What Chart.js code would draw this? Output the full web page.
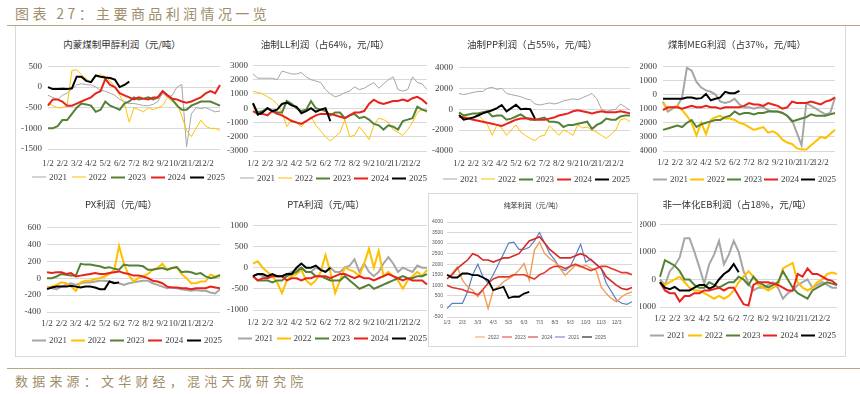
<!DOCTYPE html>
<html><head><meta charset="utf-8">
<script src="https://cdn.jsdelivr.net/npm/chart.js@4.4.1/dist/chart.umd.min.js"></script>
<style>
html,body{margin:0;padding:0;background:#fff;}
body{width:860px;height:394px;position:relative;overflow:hidden;font-family:"Noto Sans CJK SC",sans-serif;}
.abs{position:absolute;}
.ttl{position:absolute;transform:translate(-50%,-50%);white-space:nowrap;line-height:1;color:#333;font-family:"Noto Sans CJK SC",sans-serif;}
.leg{position:absolute;display:flex;justify-content:space-between;align-items:center;transform:translateY(-50%);white-space:nowrap;line-height:1;}
.leg .it{display:flex;align-items:center;}
.leg .ln{display:inline-block;}
</style></head>
<body>
<div class="abs" style="left:15px;top:4px;font-size:14px;letter-spacing:3.4px;color:#A08D6A;line-height:18px;white-space:nowrap;">图表 27：主要商品利润情况一览</div>
<div class="abs" style="left:7px;top:25px;width:853px;height:0;border-top:1px solid #B9A683;"></div>
<div class="abs" style="left:15px;top:26px;width:829px;height:330px;border-left:1px solid #D9D9D9;border-right:1px solid #D9D9D9;border-bottom:1px solid #D9D9D9;"></div>
<div class="abs" style="left:428px;top:193px;width:208px;height:152px;border:1px solid #D9D9D9;"></div>
<div class="abs" style="left:7px;top:368px;width:853px;height:0;border-top:1px solid #B9A683;"></div>
<div class="abs" style="left:15px;top:372px;font-size:13px;letter-spacing:4.2px;color:#A08D6A;line-height:18px;white-space:nowrap;">数据来源：文华财经，混沌天成研究院</div>
<script>
// ---------- categories / tick labels ----------
const MONTH_TICKS = ['1/2','2/2','3/2','4/2','5/2','6/2','7/2','8/2','9/2','10/2','11/2','12/2'];
const SAMPLE_DAYS = ['2','12','22'];
const BENZ_TICKS = ['1/3','2/3','3/3','4/3','5/3','6/3','7/3','8/3','9/3','10/3','11/3','12/3'];
const BENZ_DAYS = ['3','13','23'];
const YEARS = ['2021','2022','2023','2024','2025'];

// ---------- 内蒙煤制甲醇利润 ----------
const meoh2021 = [-200,-250,-300, -200,-150,-50, 50,80,60, 50,0,-80, -100,-150,-200, -300,-350,-400, -400,-420,-450, -450,-420,-350, -150,-250,-200, 0,60,-1450, -650,-500,-520, -500,-550,-600, -580];
const meoh2022 = [-400,-450,-500, -500,-450,400, 420,300,200, 100,250,300, 250,150,0, -200,-400,-850, -500,-550,-600, -500,-550,-500, -450,-250,-350, -400,-700,-1050, -1200,-1000,-800, -950,-1000,-1000, -1050];
const meoh2023 = [-1000,-1000,-950, -800,-800,-650, -500,-400,-420, -450,-600,-550, -350,-450,-500, -550,-400,-350, -250,-300,-280, -250,-300,-250, -100,-200,-300, -450,-550,-550, -450,-400,-350, -350,-350,-400, -450];
const meoh2024 = [-450,-300,-300, -350,-450,-450, -400,-350,-300, -250,-150,-100, 200,50,0, -150,-200,-250, -300,-250,-280, -300,-250,-250, -100,-200,-280, -300,-350,-380, -350,-300,-250, -150,-100,-150, 50];
const meoh2025 = [0,-50,-50, -40,-50,-30, 250,250,150, 120,280,250, 230,220,180, 0,50,130];

// ---------- 油制LL利润 ----------
const ll2021 = [2400,2100,2100, 2100,2100,2000, 2600,2500,2400, 2400,2500,2200, 2000,1900,1800, 1300,1000,800, 900,1100,1200, 1500,1300,1400, 1600,1800,1400, 1700,2000,2200, 1300,1200,1300, 2200,1800,1700, 1300];
const ll2022 = [1200,1100,1000, 800,600,300, -300,-1300,-800, -1000,-1300,-900, -600,-1200,-1600, -2000,-2300,-2000, -1700,-800,-2000, -1900,-1300,-1700, -2200,-1200,-700, -800,-1000,-1500, -1700,-1900,-1500, -1000,-300,-100, -300];
const ll2023 = [300,-300,-200, 0,-200,-300, -300,500,300, 0,-200,-100, 500,0,-100, -200,-500,-300, -300,-700,-500, -400,-700,-600, -800,-1100,-1200, -1500,-1200,-1300, -1500,-900,-800, -700,100,-100, -200];
const ll2024 = [-200,-400,-400, -500,-200,-400, -500,-700,-900, -1000,-1100,-900, -700,-500,-400, -400,-400,-500, -600,-700,-500, -300,-300,-200, 300,600,400, 300,400,500, 500,600,500, 700,800,600, 300];
const ll2025 = [350,-450,-300, 0,-200,-100, 300,400,200, 100,-350,-200, 0,-250,-100, 0,-900];

// ---------- 油制PP利润 ----------
const pp2021 = [1500,1400,1500, 1600,1700,1700, 2000,2100,1900, 2000,1500,1400, 1300,1200,1000, 900,500,400, 500,600,500, 600,800,900, 1000,900,1100, 1300,1500,1000, 0,-200,-100, 0,500,200, -100];
const pp2022 = [-300,-700,-800, -800,-500,-1000, -1500,-2500,-1500, -1800,-2500,-2000, -1500,-2200,-2500, -2800,-3000,-2600, -2500,-1600,-2000, -2500,-2000,-2200, -2500,-1500,-1800, -1700,-2000,-2200, -2500,-2800,-2400, -2000,-1000,-900, -1200];
const pp2023 = [-300,-600,-500, -400,-400,-300, -200,-700,-600, -600,-1000,-900, -700,-500,-800, -1000,-1000,-900, -800,-1200,-1200, -1300,-1700,-1500, -1500,-1400,-1300, -1200,-1900,-1500, -1300,-900,-1000, -1000,-700,-600, -600];
const pp2024 = [-700,-800,-900, -1000,-1100,-1200, -1300,-1400,-1500, -1600,-1400,-1200, -1000,-900,-900, -900,-1000,-1000, -1000,-900,-800, -600,-500,-400, -200,-100,-200, -300,-400,-300, -200,-300,-300, -300,-200,-300, -400];
const pp2025 = [-550,-1000,-900, -800,-600,-400, -250,-100,100, 400,-200,100, 430,0,50, 0,-900];

// ---------- 煤制MEG利润 ----------
const meg2021 = [-500,-1200,-1000, -800,-200,1900, 1700,900,500, 300,200,0, -500,-600,-500, -300,-700,-900, -900,-1000,-900, -900,-1100,-1200, -1200,-1300,-1500, -1800,-2700,-3600, -600,-800,-1000, -1200,-1400,-1300, -200];
const meg2022 = [-600,-1000,-900, -800,-1100,-1500, -2000,-2900,-2000, -2800,-1800,-1600, -1500,-1700,-1700, -1800,-2000,-2100, -2300,-2500,-2400, -2300,-2700,-2600, -2800,-3200,-3400, -3500,-3800,-3900, -3900,-3600,-3300, -3000,-3100,-2800, -2500];
const meg2023 = [-2500,-2400,-2300, -2200,-2300,-2000, -1800,-2300,-2100, -2000,-1900,-1800, -1800,-1600,-1500, -1200,-1400,-1300, -1300,-1400,-1300, -1300,-1200,-1200, -1200,-1300,-1500, -1900,-1800,-1700, -1600,-1400,-1500, -1500,-1500,-1400, -1300];
const meg2024 = [-1100,-900,-900, -900,-1000,-900, -800,-900,-900, -800,-900,-900, -1000,-900,-900, -900,-900,-800, -600,-700,-700, -800,-600,-700, -800,-1000,-900, -500,-600,-600, -600,-500,-600, -700,-500,-400, -200];
const meg2025 = [-300,-300,-300, -300,-300,-200, -200,-300,-250, 50,-400,-300, -200,200,100, 100,270];

// ---------- PX利润 ----------
const px2021 = [-100,-120,-130, -100,-80,-60, -80,-60,-50, -50,-40,-30, -30,-40,-50, -60,-80,-60, -50,-40,-30, -30,-60,-80, -100,-120,-110, -120,-130,-140, -150,-140,-150, -150,-170,-180, -130];
const px2022 = [-120,-100,-80, -50,-60,-100, -150,-50,-30, -30,-10,0, 20,50,100, 380,170,40, -40,0,20, 50,100,120, 170,100,120, 130,50,0, -60,-60,-40, -40,40,20, 20];
const px2023 = [0,0,20, 50,40,30, 30,170,160, 160,150,140, 120,130,110, 100,160,150, 150,150,140, 100,100,110, 120,100,120, 130,70,80, 70,50,60, 20,0,10, 40];
const px2024 = [70,60,70, 70,50,60, 20,30,40, 50,60,50, 50,60,70, 80,60,50, 30,30,20, 0,-30,-40, -60,-100,-110, -110,-120,-120, -130,-120,-120, -120,-100,-110, -120];
const px2025 = [-130,-110,-100, -100,-100,-90, -100,-110,-100, -100,-110,-130, -130,-40,-60, -50];

// ---------- PTA利润 ----------
const pta2021 = [-200,-150,-200, -250,-200,-200, -200,-150,-100, -50,0,-100, -100,0,-50, -100,0,-100, -100,0,50, 200,-100,100, -100,-200,-100, 100,250,100, -100,0,-50, -100,50,0, 0];
const pta2022 = [100,150,0, -100,-200,-350, -600,-300,-200, -150,-50,-300, -400,-300,-100, 300,-100,-600, -300,0,-50, -100,-200,100, 450,0,400, -200,-100,-200, -300,-500,-300, -200,-100,-200, -50];
const pta2023 = [-200,-300,-300, -300,-350,-300, -300,-200,-150, -100,0,-100, -100,-200,-200, -250,-300,-300, -300,-200,-300, -400,-500,-450, -400,-500,-450, -400,-350,-300, -250,-200,-250, -250,-200,-200, -150];
const pta2024 = [-200,-300,-250, -250,-200,-200, -200,-300,-250, -250,-300,-250, -250,-200,-200, -200,-250,-200, -150,-150,-200, -250,-200,-250, -250,-300,-250, -200,-150,-200, -250,-300,-250, -300,-300,-300, -400];
const pta2025 = [-200,-150,-150, -200,-150,-200, -200,-150,-150, 0,100,0, 0,50,-50, -100,0];

// ---------- 纯苯利润 ----------
const bz2021 = [-100,150,150, 150,700,1500, 2000,1400,1100, 1500,2000,2500, 3000,3050,2700, 2700,2800,3100, 3500,3000,2500, 2200,1800,1700, 1900,2400,2950, 2100,2250,2000, 1800,1100,700, 300,150,100, 220];
const bz2022 = [1320,1560,1870, 1240,930,770, 460,770,-100, 770,930,1170, 1320,1480,1720, 2030,1240,2660, 3050,2500,2270, 2110,1800,1480, 1720,1950,1870, 1950,1800,1720, 930,610,380, 220,460,610, 690];
const bz2023 = [1000,900,850, 800,700,650, 550,800,1100, 1300,1400,1400, 1400,1500,1500, 1500,1400,1300, 1500,1600,1800, 1900,1900,1800, 1900,2000,1900, 1800,1700,1800, 1900,1900,1800, 1700,1600,1600, 1500];
const bz2024 = [1300,1500,1800, 2000,2200,2500, 2400,2200,2200, 2100,2200,2300, 2300,2400,2500, 2800,3100,3200, 3300,3000,2700, 2500,2300,2300, 2300,2400,2500, 2400,2200,2000, 1800,1400,1200, 1000,850,800, 900];
const bz2025 = [1500,1370,1370, 1560,1560,1480, 1480,1370,1240, 770,850,930, 400,460,460, 610,690];

// ---------- 非一体化EB利润 ----------
const eb2021 = [0,-200,300, 500,800,1500, 1500,1000,450, -150,550,900, 1400,550,900, 1400,1000,300, -150,-400,-300, -300,-200,-100, -300,-700,-500, -400,-200,-100, 0,-300,-200, -100,-200,-300, -300];
const eb2022 = [-100,-200,-100, 0,100,-100, -300,-400,-400, -500,-600,-700, -600,-700,-600, -400,-100,100, 300,100,-200, -300,-400,-300, -200,400,500, 600,-100,-300, -400,-300,-100, 0,200,250, 200];
const eb2023 = [100,700,600, 500,300,0, 0,-200,-300, -300,-100,-200, -300,-200,-100, -100,100,0, -200,100,-100, -200,-300,-200, -100,300,0, -300,-500,-600, -700,-400,-300, -200,-100,-150, -200];
const eb2024 = [-100,-400,-500, -500,-800,-600, -600,-500,-500, -400,-400,-350, -300,-400,-300, -300,-600,-900, -950,-200,-100, -100,-100,-150, -200,-300,-400, -400,200,100, 400,200,200, 100,0,-50, -200];
const eb2025 = [-100,-300,-350, -270,-400,-400, -400,-300,-200, -200,-330,-250, 0,200,320, 560,260];

// ---------- build category labels ----------
function buildDates(days){
  const out = [];
  for (let m = 1; m <= 12; m++) for (const d of days) out.push(m + '/' + d);
  out.push('12/31');
  return out;
}
const DATES = buildDates(SAMPLE_DAYS);
const BENZ_DATES = buildDates(BENZ_DAYS);

const STD_COLORS = {'2021':'#A6A6A6','2022':'#FFC000','2023':'#548235','2024':'#E8231C','2025':'#000000'};
const BZ_COLORS = {'2022':'#EE9E55','2023':'#E3392C','2024':'#D42A2A','2021':'#5B7FC4','2025':'#000000'};
const ORDER = {'2025':0,'2024':1,'2023':2,'2022':3,'2021':4};

function addText(cls, html, css){
  const d = document.createElement('div');
  d.className = cls; d.innerHTML = html; d.style.cssText += css;
  document.body.appendChild(d);
  return d;
}

function makePanel(p){
  const padT = 8, padR = 4;
  const lineH = p.tickSize * 1.2;
  const xPad = Math.max(0, Math.round(p.xy - p.pb - lineH / 2));
  const xH = xPad + Math.ceil(lineH) + 3;
  const W = p.pr + padR - p.L;
  const H = padT + (p.pb - p.pt) + xH;
  const yW = p.pl - p.L;
  const c = document.createElement('canvas');
  c.width = W; c.height = H;
  c.style.cssText = `position:absolute;left:${p.L}px;top:${p.pt - padT}px;width:${W}px;height:${H}px;`;
  document.body.appendChild(c);
  const ticksSet = new Set(p.ticks);
  const datasets = p.series.map(s => ({
    label: s.year, data: s.data, borderColor: p.colors[s.year], backgroundColor: p.colors[s.year],
    borderWidth: s.w, pointRadius: 0, tension: 0, fill: false, order: ORDER[s.year]
  }));
  new Chart(c, {
    type: 'line',
    data: { labels: p.labels, datasets },
    options: {
      responsive: false, animation: false, devicePixelRatio: 1,
      layout: { padding: { top: padT, right: padR, left: 0, bottom: 0 } },
      plugins: { legend: { display: false }, title: { display: false }, tooltip: { enabled: false } },
      scales: {
        x: {
          grid: { display: false, drawTicks: false }, border: { display: false },
          ticks: { autoSkip: false, maxRotation: 0, minRotation: 0, padding: xPad,
            font: { family: p.tickFont, size: p.tickSize }, color: p.tickColor,
            callback: function(v, i){ const l = p.labels[i]; return ticksSet.has(l) ? l : null; } },
          afterFit: s => { s.height = xH; }
        },
        y: {
          min: p.min, max: p.max,
          grid: { color: '#D9D9D9', lineWidth: 1, drawTicks: false }, border: { display: false },
          ticks: { stepSize: p.step, padding: p.pl - p.yr, font: { family: p.tickFont, size: p.tickSize }, color: p.tickColor,
            callback: v => String(v) },
          afterFit: s => { s.width = yW; }
        }
      }
    }
  });
  addText('ttl', p.title, `left:${p.tx}px;top:${p.ty}px;font-size:${p.titleSize}px;`);
  const leg = addText('leg', '', `left:${p.legL}px;top:${p.legY}px;width:${p.legW}px;font-family:${p.legFont};font-size:${p.legSize}px;color:${p.tickColor};`);
  p.legOrder.forEach(y => {
    const s = p.series.find(q => q.year === y);
    const it = document.createElement('span'); it.className = 'it';
    const ln = document.createElement('span'); ln.className = 'ln';
    ln.style.cssText = `width:${p.legLine}px;height:${Math.max(1, s.w)}px;background:${p.colors[y]};margin-right:3px;`;
    const tx = document.createElement('span'); tx.textContent = y;
    it.appendChild(ln); it.appendChild(tx); leg.appendChild(it);
  });
}

const SERIF = '"Liberation Serif", "Times New Roman", serif';
const base = { labels: DATES, ticks: MONTH_TICKS, tickFont: SERIF, tickSize: 9, tickColor: '#404040', titleSize: 9.5,
  legFont: SERIF, legSize: 9, legLine: 14, colors: STD_COLORS, legOrder: YEARS };

const panels = [
  Object.assign({}, base, { title: '内蒙煤制甲醇利润（元/吨）', tx: 122, ty: 45,
    L: 0, pl: 48, pr: 220, pt: 63, pb: 149, yr: 42, xy: 163, min: -1500, max: 500, step: 500,
    legL: 32, legW: 193, legY: 177,
    series: [ {year:'2021', data: meoh2021, w:1}, {year:'2022', data: meoh2022, w:1}, {year:'2023', data: meoh2023, w:2},
              {year:'2024', data: meoh2024, w:2}, {year:'2025', data: meoh2025, w:2} ] }),
  Object.assign({}, base, { title: '油制LL利润（占64%，元/吨）', tx: 325, ty: 45,
    L: 215, pl: 253, pr: 427, pt: 63, pb: 151, yr: 248, xy: 163, min: -3000, max: 3000, step: 1000,
    legL: 240, legW: 187, legY: 178,
    series: [ {year:'2021', data: ll2021, w:1}, {year:'2022', data: ll2022, w:1}, {year:'2023', data: ll2023, w:2},
              {year:'2024', data: ll2024, w:2}, {year:'2025', data: ll2025, w:2} ] }),
  Object.assign({}, base, { title: '油制PP利润（占55%，元/吨）', tx: 532, ty: 45,
    L: 430, pl: 459, pr: 630, pt: 64, pb: 151, yr: 453, xy: 163, min: -4000, max: 4000, step: 2000,
    legL: 443, legW: 187, legY: 179,
    series: [ {year:'2021', data: pp2021, w:1}, {year:'2022', data: pp2022, w:1}, {year:'2023', data: pp2023, w:2},
              {year:'2024', data: pp2024, w:2}, {year:'2025', data: pp2025, w:2} ] }),
  Object.assign({}, base, { title: '煤制MEG利润（占37%，元/吨）', tx: 737, ty: 45,
    L: 640, pl: 663, pr: 835, pt: 63, pb: 151, yr: 657, xy: 162, min: -4000, max: 2000, step: 1000,
    legL: 653, legW: 183, legY: 179,
    series: [ {year:'2021', data: meg2021, w:2}, {year:'2022', data: meg2022, w:2}, {year:'2023', data: meg2023, w:2},
              {year:'2024', data: meg2024, w:2}, {year:'2025', data: meg2025, w:2} ] }),
  Object.assign({}, base, { title: 'PX利润（元/吨）', tx: 121, ty: 205,
    L: 0, pl: 47, pr: 220, pt: 224, pb: 312, yr: 41, xy: 323, min: -400, max: 600, step: 200,
    legL: 32, legW: 190, legY: 340,
    series: [ {year:'2021', data: px2021, w:2}, {year:'2022', data: px2022, w:2}, {year:'2023', data: px2023, w:2},
              {year:'2024', data: px2024, w:2}, {year:'2025', data: px2025, w:2} ] }),
  Object.assign({}, base, { title: 'PTA利润（元/吨）', tx: 326, ty: 205,
    L: 215, pl: 253, pr: 427, pt: 223, pb: 310, yr: 248, xy: 322, min: -1000, max: 1000, step: 500,
    legL: 238, legW: 189, legY: 338,
    series: [ {year:'2021', data: pta2021, w:2}, {year:'2022', data: pta2022, w:2}, {year:'2023', data: pta2023, w:2},
              {year:'2024', data: pta2024, w:2}, {year:'2025', data: pta2025, w:2} ] }),
  Object.assign({}, base, { title: '纯苯利润（元/吨）', tx: 533, ty: 205, titleSize: 7,
    labels: BENZ_DATES, ticks: BENZ_TICKS, tickFont: '"Liberation Sans", Arial, sans-serif', tickSize: 5, tickColor: '#595959',
    legFont: '"Liberation Sans", Arial, sans-serif', legSize: 5, legLine: 10, colors: BZ_COLORS,
    legOrder: ['2022','2023','2024','2021','2025'],
    L: 429, pl: 447, pr: 632, pt: 222, pb: 317, yr: 443, xy: 323, min: -500, max: 4000, step: 500,
    legL: 475, legW: 131, legY: 337,
    series: [ {year:'2022', data: bz2022, w:1.4}, {year:'2023', data: bz2023, w:1.6}, {year:'2024', data: bz2024, w:1.6},
              {year:'2021', data: bz2021, w:1.2}, {year:'2025', data: bz2025, w:1.8} ] }),
  Object.assign({}, base, { title: '非一体化EB利润（占18%，元/吨）', tx: 737, ty: 205,
    L: 640, pl: 660, pr: 837, pt: 223, pb: 307, yr: 656, xy: 318, min: -1000, max: 2000, step: 500,
    legL: 650, legW: 186, legY: 335,
    series: [ {year:'2021', data: eb2021, w:2}, {year:'2022', data: eb2022, w:2}, {year:'2023', data: eb2023, w:2},
              {year:'2024', data: eb2024, w:2}, {year:'2025', data: eb2025, w:2} ] })
];

panels.forEach(makePanel);
</script>
</body></html>
